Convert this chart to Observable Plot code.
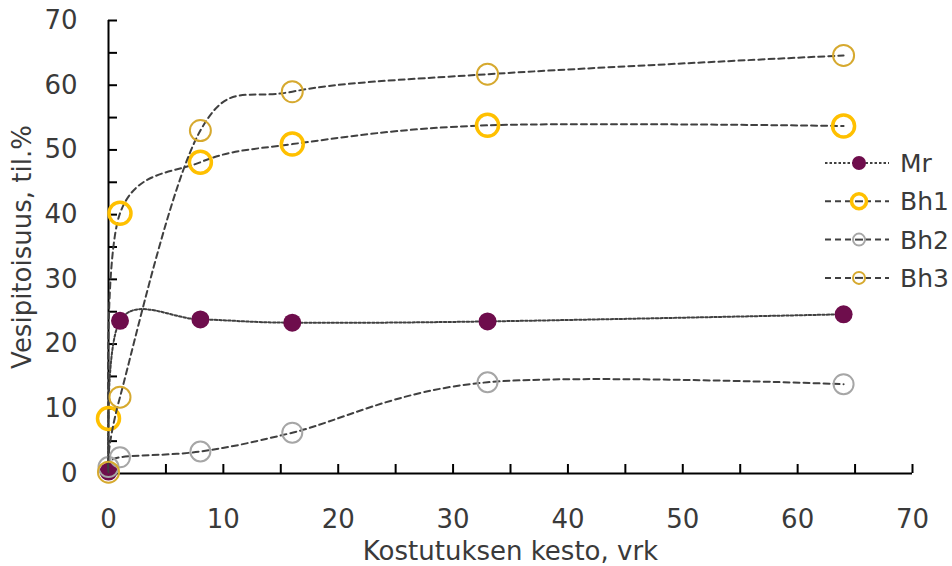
<!DOCTYPE html>
<html><head><meta charset="utf-8">
<script src="https://cdn.jsdelivr.net/npm/d3@7"></script>
<script src="https://cdn.jsdelivr.net/npm/@observablehq/plot@0.6"></script>
<style>
body{margin:0;background:#fff;}
#wrap{position:relative;width:952px;height:566px;font-family:"DejaVu Sans",sans-serif;}
#legend{position:absolute;left:0;top:0;pointer-events:none;}
</style></head><body><div id="wrap"></div>
<script>
// ---- data ----
const days = [0, 1, 8, 16, 33, 64];
const mr  = [0.3, 23.6, 23.8, 23.3, 23.5, 24.6];
const bh1 = [8.5, 40.2, 48.1, 50.9, 53.8, 53.7];
const bh2 = [1.0, 2.5, 3.4, 6.3, 14.1, 13.8];
const bh3 = [0.2, 11.8, 53.0, 59.0, 61.7, 64.6];
const seriesNames = ["Mr", "Bh1", "Bh2", "Bh3"];
const xTickLabels = [0, 10, 20, 30, 40, 50, 60, 70];
const yTickLabels = [0, 10, 20, 30, 40, 50, 60, 70];
const minorTicks = [0, 5, 10, 15, 20, 25, 30, 35, 40, 45, 50, 55, 60, 65, 70];
const xTitle = "Kostutuksen kesto, vrk";
const yTitle = "Vesipitoisuus, til.%";

// ---- styles ----
const FONT = "DejaVu Sans, sans-serif";
const seriesValues = {Mr: mr, Bh1: bh1, Bh2: bh2, Bh3: bh3};
const style = {
  Mr:  {dash: "2.5,2", r: 9, fill: "#6e0d4c", stroke: "none", sw: 0, lr: 7},
  Bh1: {dash: "6,4", r: 11, fill: "none", stroke: "#ffc000", sw: 3.5, lr: 7.5},
  Bh2: {dash: "6,4", r: 10, fill: "none", stroke: "#a6a6a6", sw: 2, lr: 6},
  Bh3: {dash: "6,4", r: 10.5, fill: "none", stroke: "#d6a92f", sw: 2, lr: 6}
};
const rows = seriesNames.flatMap(s => days.map((d, i) => ({series: s, x: d, y: seriesValues[s][i]})));

const marks = [];
for (const s of seriesNames) {
  const data = rows.filter(r => r.series === s);
  const st = style[s];
  marks.push(Plot.line(data, {x: "x", y: "y", curve: "cardinal", stroke: "#404040", strokeWidth: 2, strokeDasharray: st.dash}));
  marks.push(Plot.dot(data, {x: "x", y: "y", r: st.r, fill: st.fill, stroke: st.stroke, strokeWidth: st.sw}));
}

const chart = Plot.plot({
  width: 952, height: 566,
  marginLeft: 108, marginRight: 40, marginTop: 20, marginBottom: 93,
  style: {fontFamily: FONT, fontSize: "26px", color: "#3a3a3a", background: "#fff"},
  x: {domain: [0, 70]},
  y: {domain: [0, 70]},
  marks: [
    Plot.axisX(minorTicks, {tickSize: -9, tickFormat: () => "", stroke: "#000", strokeWidth: 2, label: null}),
    Plot.axisY(minorTicks, {tickSize: -9, tickFormat: () => "", stroke: "#000", strokeWidth: 2, label: null}),
    Plot.axisX(xTickLabels, {tickSize: 0, tickPadding: 36, fontSize: 26, label: xTitle, labelAnchor: "center", labelArrow: "none", labelOffset: 86}),
    Plot.axisY(yTickLabels, {tickSize: 0, tickPadding: 31, fontSize: 26, label: yTitle, labelAnchor: "center", labelArrow: "none", labelOffset: 96}),
    Plot.ruleX([xTickLabels[0]], {stroke: "#000", strokeWidth: 2}),
    Plot.ruleY([yTickLabels[0]], {stroke: "#000", strokeWidth: 2}),
    ...marks
  ]
});
const wrap = document.getElementById("wrap");
wrap.appendChild(chart);

// ---- legend ----
const lg = d3.select(wrap).append("svg").attr("id", "legend").attr("width", 952).attr("height", 566);
const legY0 = 163, legStep = 38.3;
seriesNames.forEach((s, i) => {
  const st = style[s];
  const g = lg.append("g").attr("transform", `translate(825,${legY0 + i * legStep})`);
  g.append("line").attr("x1", 0).attr("x2", 64).attr("y1", 0).attr("y2", 0)
    .attr("stroke", "#404040").attr("stroke-width", 2).attr("stroke-dasharray", st.dash);
  g.append("circle").attr("cx", 34).attr("cy", 0).attr("r", st.lr)
    .attr("fill", st.fill === "none" ? "#fff" : st.fill).attr("stroke", st.stroke).attr("stroke-width", st.sw);
  if (st.fill === "none") g.append("line").attr("x1", 30).attr("x2", 38).attr("y1", 0).attr("y2", 0).attr("stroke", "#404040").attr("stroke-width", 2);
  g.append("text").attr("x", 75).attr("y", 0).attr("dy", "0.36em")
    .attr("font-family", FONT).attr("font-size", 25).attr("fill", "#3a3a3a").text(s);
});
</script></body></html>
